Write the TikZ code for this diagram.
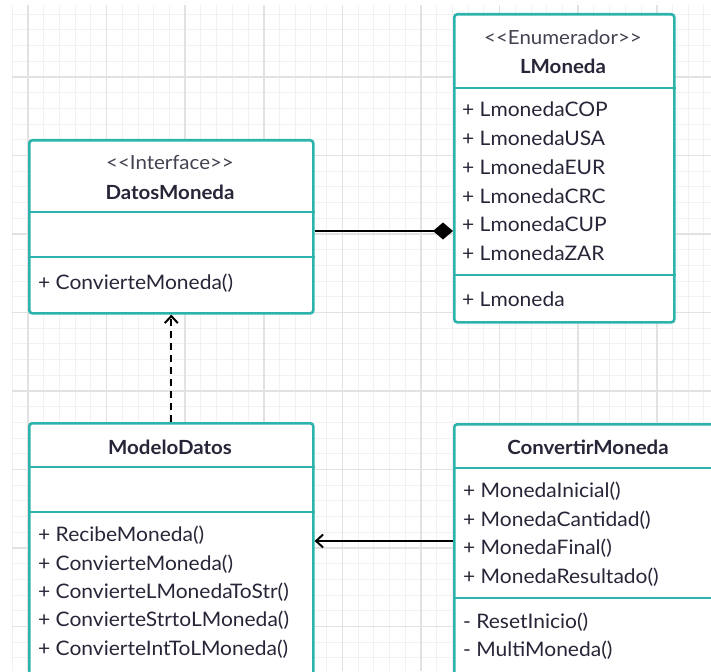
\documentclass[tikz,border=0pt]{standalone}
\usepackage{fontspec}
\setmainfont{Lato}[FakeStretch=1.05]
\usepackage{tikz}
\usetikzlibrary{arrows.meta}
\definecolor{umlteal}{RGB}{44,180,172}
\definecolor{umltext}{RGB}{38,38,56}
\definecolor{umlstereo}{RGB}{66,66,80}
\definecolor{gridminor}{RGB}{241,241,241}
\definecolor{gridmajor}{RGB}{226,226,226}
\tikzset{
  clase/.style={rectangle, draw=umlteal, fill=white, line width=2.6pt,
    rounded corners=3pt, anchor=north west, inner sep=0pt},
  divisor/.style={draw=umlteal, line width=2.6pt},
  estereo/.style={font=\fontsize{19.5}{22}\selectfont, text=umlstereo, anchor=base, inner sep=0pt},
  titulo/.style={font=\fontsize{19.5}{22}\selectfont\bfseries, text=umltext, anchor=base, inner sep=0pt},
  miembro/.style={font=\fontsize{20}{22}\selectfont, text=umltext, anchor=base west, inner sep=0pt},
  lineamenor/.style={draw=gridminor, line width=1pt},
  lineamayor/.style={draw=gridmajor, line width=1.6pt},
  compone/.style={-{Diamond[length=20pt, width=17pt]}, line width=2pt, color=black},
  realiza/.style={-{Straight Barb[length=7pt, width=13pt]}, dash pattern=on 7pt off 5pt, line width=2pt, color=black},
  asocia/.style={-{Straight Barb[length=7pt, width=13pt]}, line width=2pt, color=black}
}

\begin{document}
\begin{tikzpicture}[x=1pt, y=-1pt]
  \clip (0,0) rectangle (711,671);
  \fill[white] (0,0) rectangle (711,671);

  % background grid
  \foreach \gx in {12.28,28,...,711} \draw[lineamenor] (\gx,5) -- (\gx,671);
  \foreach \gy in {14.2,29.9,...,671} \draw[lineamenor] (12,\gy) -- (711,\gy);
  \foreach \gx in {28,106.6,...,711} \draw[lineamayor] (\gx,5) -- (\gx,671);
  \foreach \gy in {77,155.5,...,671} \draw[lineamayor] (12,\gy) -- (711,\gy);

  % --- DatosMoneda ---
  \node[clase, minimum width=284pt, minimum height=173pt] (datos) at (28,139) {};
  \draw[divisor] (datos.west |- 0,212) -- (datos.east |- 0,212);
  \draw[divisor] (datos.west |- 0,257) -- (datos.east |- 0,257);
  \node[estereo] (datosEst) at (170,169.3) {<{}<Interface>{}>};
  \node[titulo] (datosNom) at (170,199.3) {DatosMoneda};
  \node[miembro] (datosM1) at (38,289.5) {+ ConvierteMoneda()};

  % --- LMoneda ---
  \node[clase, minimum width=220pt, minimum height=308pt] (lmoneda) at (453,13) {};
  \draw[divisor] (lmoneda.west |- 0,88) -- (lmoneda.east |- 0,88);
  \draw[divisor] (lmoneda.west |- 0,275) -- (lmoneda.east |- 0,275);
  \node[estereo] (lmonedaEst) at (563,44.3) {<{}<Enumerador>{}>};
  \node[titulo] (lmonedaNom) at (563,73.3) {LMoneda};
  \node[miembro] (lmA1) at (462,116.7) {+ LmonedaCOP};
  \node[miembro] (lmA2) at (462,145.5) {+ LmonedaUSA};
  \node[miembro] (lmA3) at (462,174.2) {+ LmonedaEUR};
  \node[miembro] (lmA4) at (462,203) {+ LmonedaCRC};
  \node[miembro] (lmA5) at (462,231.7) {+ LmonedaCUP};
  \node[miembro] (lmA6) at (462,260.3) {+ LmonedaZAR};
  \node[miembro] (lmM1) at (462,306) {+ Lmoneda};

  % --- ModeloDatos ---
  \node[clase, minimum width=284pt, minimum height=280pt] (modelo) at (28,422) {};
  \draw[divisor] (modelo.west |- 0,467) -- (modelo.east |- 0,467);
  \draw[divisor] (modelo.west |- 0,512) -- (modelo.east |- 0,512);
  \node[titulo] (modeloNom) at (170,454) {ModeloDatos};
  \node[miembro] (mdM1) at (38,541.7) {+ RecibeMoneda()};
  \node[miembro] (mdM2) at (38,570) {+ ConvierteMoneda()};
  \node[miembro] (mdM3) at (38,598.3) {+ ConvierteLMonedaToStr()};
  \node[miembro] (mdM4) at (38,626.7) {+ ConvierteStrtoLMoneda()};
  \node[miembro] (mdM5) at (38,655) {+ ConvierteIntToLMoneda()};

  % --- ConvertirMoneda ---
  \node[clase, minimum width=270pt, minimum height=280pt] (convertir) at (453,423) {};
  \draw[divisor] (convertir.west |- 0,468) -- (convertir.east |- 0,468);
  \draw[divisor] (convertir.west |- 0,598) -- (convertir.east |- 0,598);
  \node[titulo] (convertirNom) at (588,454) {ConvertirMoneda};
  \node[miembro] (cmA1) at (463,497.3) {+ MonedaInicial()};
  \node[miembro] (cmA2) at (463,526) {+ MonedaCantidad()};
  \node[miembro] (cmA3) at (463,554.5) {+ MonedaFinal()};
  \node[miembro] (cmA4) at (463,583.3) {+ MonedaResultado()};
  \node[miembro] (cmM1) at (463,628.3) {- ResetInicio()};
  \node[miembro] (cmM2) at (463,656.7) {- MultiMoneda()};

  % relations
  \draw[compone] (datos.east |- 0,231) -- (lmoneda.west |- 0,231);
  \draw[realiza] (modelo.north) -- (datos.south);
  \draw[asocia] (convertir.west |- 0,541) -- (modelo.east |- 0,541);
\end{tikzpicture}
\end{document}
